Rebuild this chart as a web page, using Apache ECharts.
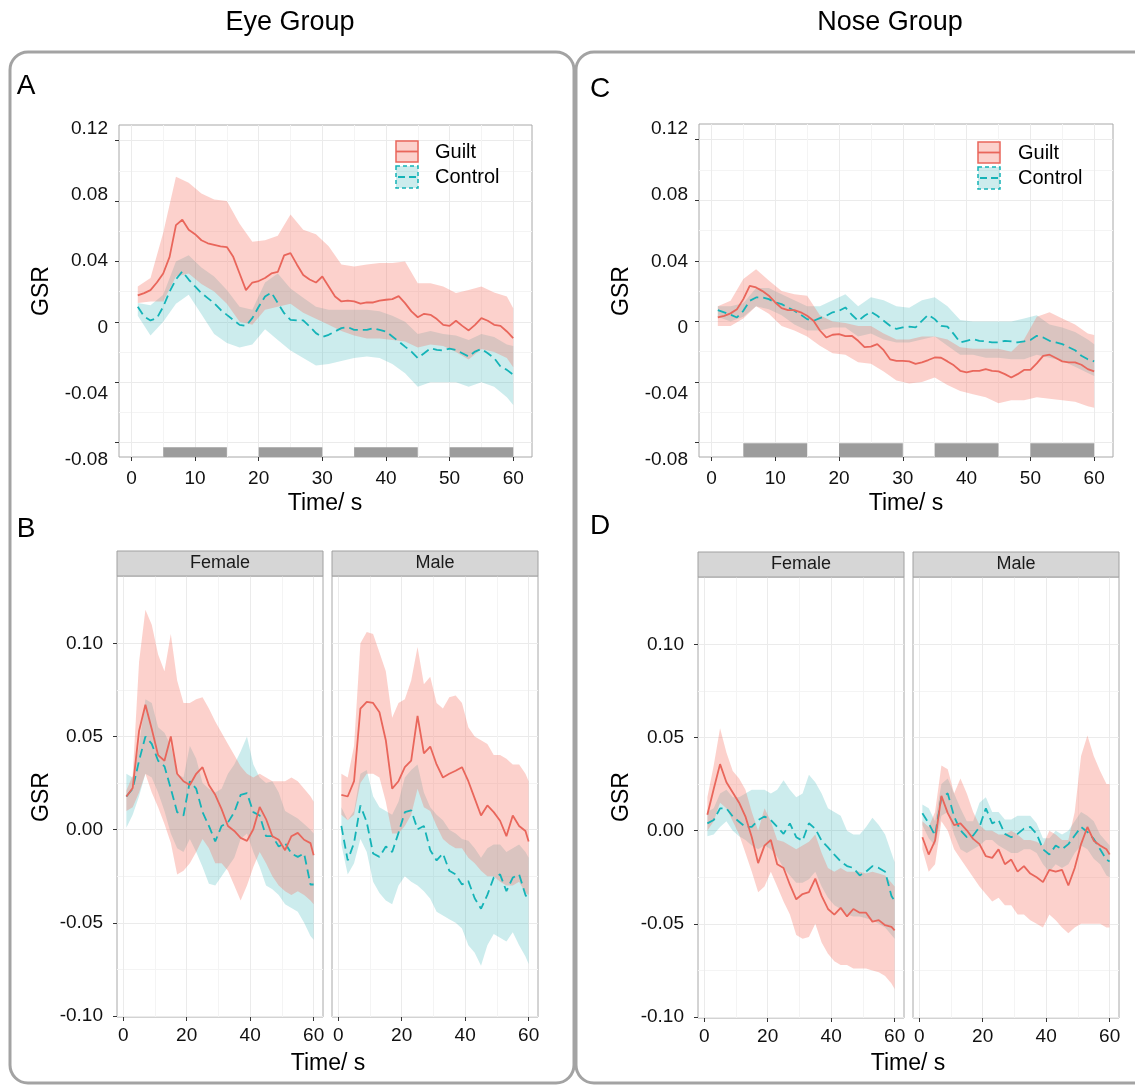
<!DOCTYPE html>
<html>
<head>
<meta charset="utf-8">
<script src="https://cdn.jsdelivr.net/npm/echarts@6/dist/echarts.min.js"></script>
<style>
  html, body { margin: 0; padding: 0; background: #fff; }
  #chart { width: 1135px; height: 1085px; }
</style>
</head>
<body>
<div id="chart"></div>
<script>
// ---- time points (s) ----
var timeFull = [1,2,3,4,5,6,7,8,9,10,11,12,13,14,15,16,17,18,19,20,21,22,23,24,25,26,27,28,29,30,
                31,32,33,34,35,36,37,38,39,40,41,42,43,44,45,46,47,48,49,50,51,52,53,54,55,56,57,58,59,60];
var timeHalf = [1,3,5,7,9,11,13,15,17,19,21,23,25,27,29,31,33,35,37,39,41,43,45,47,49,51,53,55,57,59,60];

// tick labels
var xLabelsAC = ['0','10','20','30','40','50','60'];
var xLabelsBD = ['0','20','40','60'];
var yLabelsAC = ['-0.08','-0.04','0','0.04','0.08','0.12'];
var yLabelsBD = ['-0.10','-0.05','0.00','0.05','0.10'];

// grey stimulus bars (s)
var shadeStart = [5,20,35,50];
var shadeEnd = [15,30,45,60];

// ---- A: Eye group, mean lines (timeFull) ----
var guiltA = [0.0175,0.019,0.021,0.026,0.032,0.043,0.064,0.0676,0.061,0.058,
              0.054,0.052,0.051,0.050,0.0495,0.043,0.032,0.021,0.026,0.027,
              0.029,0.032,0.033,0.044,0.0455,0.038,0.031,0.028,0.026,0.030,
              0.0234,0.0168,0.0135,0.014,0.0135,0.012,0.0128,0.0128,0.014,0.0146,
              0.015,0.017,0.0124,0.0069,0.003,0.0053,0.0046,0.0018,-0.002,-0.0027,
              0.0007,-0.0027,-0.0057,-0.002,0.0024,0.0007,-0.002,-0.0027,-0.0064,-0.0108];
var controlA = [0.010,0.0035,0.0009,0.0024,0.010,0.020,0.028,0.0334,0.028,0.0234,
                0.019,0.0157,0.0124,0.008,0.0046,0.0013,-0.002,-0.0027,0.0024,0.010,
                0.0168,0.0194,0.0124,0.0057,0.0013,0.0009,0.0009,-0.003,-0.0075,-0.010,
                -0.0086,-0.0064,-0.0042,-0.0035,-0.0053,-0.0053,-0.0053,-0.0042,-0.0053,-0.0064,
                -0.0097,-0.013,-0.0164,-0.0197,-0.024,-0.0208,-0.0175,-0.0186,-0.019,-0.0177,
                -0.0186,-0.0208,-0.023,-0.0197,-0.018,-0.0208,-0.024,-0.0296,-0.0318,-0.035];
// ribbons (timeHalf)
var guiltAHi = [0.0234,0.029,0.059,0.096,0.092, 0.085,0.081,0.080,0.065,0.053, 0.054,0.057,0.071,0.061,0.058,
                0.050,0.038,0.0367,0.038,0.039, 0.039,0.040,0.0256,0.0256,0.0234, 0.019,0.021,0.0234,0.0194,0.0168, 0.009];
var guiltALo = [0.0124,0.0135,0.0135,0.030,0.032, 0.025,0.020,0.012,0.000,-0.002, 0.008,0.010,0.012,0.006,0.002,
                -0.002,-0.006,-0.009,-0.011,-0.011, -0.012,-0.013,-0.017,-0.015,-0.016, -0.020,-0.025,-0.018,-0.020,-0.024, -0.030];
var controlAHi = [0.0124,0.011,0.018,0.040,0.044, 0.036,0.030,0.021,0.010,0.008, 0.026,0.032,0.022,0.016,0.010,
                  0.008,0.008,0.008,0.008,0.007, 0.004,0.000,-0.008,-0.006,-0.008, -0.009,-0.012,-0.008,-0.010,-0.015, -0.016];
var controlALo = [0.004,-0.009,0.000,0.012,0.018, 0.005,-0.008,-0.014,-0.017,-0.015, -0.005,-0.012,-0.019,-0.024,-0.029,
                  -0.028,-0.026,-0.024,-0.023,-0.024, -0.028,-0.034,-0.043,-0.040,-0.040, -0.040,-0.043,-0.040,-0.043,-0.050, -0.055];

// ---- C: Nose group ----
var guiltC = [0.0026,0.0037,0.0053,0.008,0.0147,0.0235,0.0224,0.020,0.017,0.0125,
              0.0088,0.0075,0.0075,0.006,0.0037,0.0004,-0.006,-0.0106,-0.0088,-0.0084,
              -0.0097,-0.0095,-0.0128,-0.017,-0.0167,-0.015,-0.019,-0.025,-0.026,-0.026,
              -0.0264,-0.028,-0.027,-0.0255,-0.0238,-0.024,-0.0264,-0.029,-0.0326,-0.0337,
              -0.0326,-0.0326,-0.0315,-0.0326,-0.033,-0.0348,-0.037,-0.0348,-0.032,-0.032,
              -0.0277,-0.0227,-0.022,-0.0242,-0.0264,-0.027,-0.027,-0.0286,-0.0315,-0.033];
var controlC = [0.0075,0.006,0.0044,0.0026,0.007,0.0136,0.0158,0.0158,0.0147,0.0125,
                0.0114,0.0092,0.007,0.0044,0.0015,0.0004,0.0022,0.0037,0.006,0.007,
                0.0092,0.0044,0.0004,0.0037,0.0064,0.0037,0.0004,-0.0029,-0.005,-0.004,
                -0.0035,-0.004,0.0004,0.0044,0.0015,-0.0029,-0.0035,-0.0084,-0.0139,-0.0128,
                -0.0117,-0.0128,-0.0132,-0.0139,-0.0139,-0.0128,-0.0132,-0.0139,-0.0132,-0.0123,
                -0.0095,-0.0106,-0.0128,-0.0139,-0.015,-0.017,-0.019,-0.0227,-0.025,-0.0264];
var guiltCHi = [0.010,0.0136,0.028,0.0345,0.027, 0.020,0.018,0.017,0.004,0.000, -0.001,-0.003,-0.003,-0.008,-0.012,
                -0.012,-0.010,-0.010,-0.012,-0.017, -0.018,-0.018,-0.018,-0.020,-0.012, 0.003,0.006,0.002,-0.002,-0.008, -0.009];
var guiltCLo = [-0.003,-0.003,0.002,0.010,0.005, -0.003,-0.006,-0.010,-0.016,-0.021, -0.022,-0.027,-0.028,-0.033,-0.039,
                -0.041,-0.040,-0.037,-0.042,-0.046, -0.048,-0.050,-0.054,-0.052,-0.052, -0.050,-0.051,-0.052,-0.053,-0.056, -0.057];
var controlCHi = [0.010,0.010,0.012,0.022,0.022, 0.018,0.014,0.010,0.010,0.014, 0.018,0.010,0.016,0.014,0.010,
                  0.009,0.014,0.016,0.010,0.001, 0.000,0.000,0.000,0.000,0.002, 0.004,-0.002,-0.004,-0.007,-0.012, -0.015];
var controlCLo = [0.003,0.000,0.003,0.010,0.008, 0.004,-0.002,-0.006,-0.006,-0.004, -0.004,-0.010,-0.008,-0.012,-0.014,
                  -0.014,-0.012,-0.010,-0.016,-0.022, -0.022,-0.024,-0.024,-0.025,-0.025, -0.022,-0.024,-0.026,-0.030,-0.034, -0.036];

// ---- B: Eye group by gender (timeHalf) ----
var guiltBF = [0.0178,0.0224,0.053,0.067,0.054, 0.040,0.037,0.050,0.030,0.026, 0.024,0.030,0.0335,0.024,0.0187,
               0.011,0.002,-0.0007,-0.0044,-0.006, 0.0002,0.0122,0.0057,-0.0035,-0.0054, -0.011,-0.0035,-0.0017,-0.0054,-0.0072, -0.0137];
var controlBF = [0.0178,0.022,0.037,0.050,0.046, 0.037,0.034,0.022,0.0094,0.0076, 0.026,0.022,0.0094,0.002,-0.0063,
                 0.002,0.0039,0.0094,0.0187,0.0196, 0.0094,0.0076,-0.0035,-0.0035,-0.009, -0.0072,-0.0128,-0.0146,-0.0128,-0.0294, -0.0294];
var guiltBFHi = [0.021,0.029,0.090,0.118,0.110, 0.094,0.085,0.105,0.080,0.068, 0.068,0.070,0.071,0.065,0.058,
                 0.052,0.046,0.040,0.034,0.030, 0.028,0.030,0.028,0.026,0.026, 0.026,0.028,0.026,0.022,0.018, 0.015];
var guiltBFLo = [0.010,0.012,0.020,0.030,0.020, 0.012,0.003,-0.007,-0.024,-0.022, -0.018,-0.012,-0.005,-0.010,-0.018,
                 -0.018,-0.022,-0.030,-0.038,-0.030, -0.020,-0.012,-0.018,-0.025,-0.030, -0.033,-0.035,-0.033,-0.035,-0.038, -0.040];
var controlBFHi = [0.030,0.028,0.045,0.070,0.068, 0.055,0.052,0.045,0.030,0.028, 0.045,0.038,0.025,0.022,0.020,
                   0.022,0.030,0.035,0.042,0.050, 0.035,0.028,0.025,0.026,0.020, 0.010,0.008,0.006,0.003,0.000, -0.002];
var controlBFLo = [0.001,0.008,0.018,0.030,0.028, 0.020,0.010,-0.002,-0.010,-0.012, -0.005,-0.012,-0.020,-0.029,-0.030,
                   -0.025,-0.020,-0.015,-0.005,-0.002, -0.012,-0.020,-0.030,-0.032,-0.035, -0.040,-0.042,-0.044,-0.050,-0.057, -0.059];

var guiltBM = [0.0187,0.0178,0.026,0.065,0.0686, 0.068,0.063,0.048,0.022,0.026, 0.0335,0.037,0.061,0.041,0.0446,
               0.035,0.028,0.030,0.0316,0.0335, 0.026,0.0168,0.0076,0.013,0.0094, 0.0048,-0.0035,0.0076,0.002,-0.0007, -0.0063];
var controlBM = [0.002,-0.0165,-0.007,0.013,0.004, -0.0128,-0.0146,-0.009,-0.012,-0.0017, 0.0094,0.0104,0.0002,0.002,-0.011,
                 -0.0165,-0.0128,-0.022,-0.024,-0.0294, -0.0276,-0.0368,-0.0424,-0.035,-0.0257, -0.024,-0.033,-0.0257,-0.024,-0.035, -0.0377];
var guiltBMHi = [0.030,0.028,0.045,0.100,0.106, 0.105,0.095,0.085,0.060,0.068, 0.070,0.080,0.098,0.078,0.082,
                 0.068,0.065,0.071,0.072,0.068, 0.055,0.050,0.048,0.046,0.040, 0.040,0.038,0.035,0.035,0.030, 0.026];
var guiltBMLo = [0.008,0.005,0.008,0.025,0.030, 0.030,0.028,0.015,-0.002,-0.002, 0.002,0.008,0.022,0.012,0.010,
                 0.002,-0.005,-0.008,-0.010,-0.010, -0.015,-0.018,-0.022,-0.025,-0.025, -0.028,-0.030,-0.030,-0.028,-0.034, -0.035];
var controlBMHi = [0.012,0.005,0.010,0.030,0.032, 0.018,0.012,0.010,0.008,0.015, 0.028,0.032,0.035,0.020,0.012,
                   0.008,0.005,0.000,-0.002,-0.005, -0.006,-0.010,-0.015,-0.010,-0.008, -0.008,-0.012,-0.010,-0.008,-0.012, -0.015];
var controlBMLo = [-0.008,-0.024,-0.018,-0.005,-0.012, -0.028,-0.034,-0.038,-0.040,-0.030, -0.025,-0.028,-0.030,-0.033,-0.037,
                   -0.044,-0.046,-0.048,-0.050,-0.053, -0.062,-0.066,-0.073,-0.062,-0.056, -0.058,-0.060,-0.055,-0.062,-0.068, -0.072];

// ---- D: Nose group by gender (timeHalf) ----
var guiltDF = [0.0085,0.0224,0.0357,0.026,0.0205, 0.015,0.0076,-0.0035,-0.0174,-0.008, -0.005,-0.018,-0.020,-0.029,-0.0368,
               -0.034,-0.033,-0.0257,-0.035,-0.042, -0.045,-0.0414,-0.046,-0.042,-0.044, -0.044,-0.0488,-0.048,-0.0507,-0.0516, -0.0535];
var controlDF = [0.0039,0.0057,0.012,0.012,0.0076, 0.0048,0.002,0.002,0.0057,0.0076, 0.0057,0.002,-0.0017,0.0039,-0.0035,
                 -0.0054,0.004,0.001,-0.0054,-0.009, -0.0128,-0.0165,-0.019,-0.020,-0.024, -0.022,-0.019,-0.020,-0.022,-0.035, -0.0377];
var guiltDFHi = [0.018,0.035,0.055,0.042,0.032, 0.028,0.022,0.010,0.000,0.012, 0.005,-0.005,-0.006,-0.008,-0.010,
                 -0.008,-0.006,-0.002,-0.012,-0.020, -0.022,-0.020,-0.022,-0.022,-0.022, -0.023,-0.022,-0.023,-0.024,-0.028, -0.030];
var guiltDFLo = [0.000,0.005,0.015,0.012,0.005, -0.002,-0.012,-0.022,-0.033,-0.030, -0.022,-0.030,-0.038,-0.045,-0.056,
                 -0.058,-0.057,-0.050,-0.060,-0.066, -0.070,-0.072,-0.072,-0.074,-0.074, -0.074,-0.075,-0.076,-0.078,-0.082, -0.085];
var controlDFHi = [0.010,0.012,0.020,0.022,0.018, 0.018,0.020,0.022,0.022,0.022, 0.020,0.022,0.027,0.022,0.018,
                   0.020,0.030,0.026,0.020,0.012, 0.010,0.008,0.000,-0.002,-0.002, 0.002,0.007,0.003,-0.002,-0.012, -0.017];
var controlDFLo = [-0.003,-0.002,0.002,0.005,0.000, -0.003,-0.005,-0.008,-0.010,-0.008, -0.010,-0.014,-0.020,-0.024,-0.028,
                   -0.028,-0.026,-0.022,-0.030,-0.036, -0.040,-0.042,-0.045,-0.046,-0.046, -0.047,-0.048,-0.050,-0.052,-0.056, -0.058];

var guiltDM = [-0.0035,-0.0128,-0.0054,0.0187,0.0094, 0.003,0.0039,0.0002,-0.0044,-0.0072, -0.0137,-0.0146,-0.010,-0.018,-0.0155,
               -0.022,-0.019,-0.023,-0.025,-0.0276, -0.021,-0.022,-0.021,-0.0294,-0.020, -0.0072,0.002,-0.0054,-0.008,-0.010, -0.0128];
var controlDM = [0.0094,0.0039,-0.0026,0.018,0.020, 0.0076,0.0002,-0.0035,-0.0026,0.002, 0.012,0.0039,0.0057,-0.0017,-0.0035,
                 -0.0017,0.0011,0.002,-0.0017,-0.010, -0.0128,-0.008,-0.010,-0.0072,-0.0026, 0.002,-0.0007,-0.0044,-0.010,-0.0155, -0.0165];
var guiltDMHi = [0.005,0.002,0.010,0.035,0.033, 0.020,0.028,0.020,0.010,0.003, 0.000,0.000,-0.002,-0.002,0.000,
                 -0.002,-0.005,-0.005,-0.006,-0.008, 0.000,-0.002,-0.005,-0.005,0.010, 0.040,0.051,0.040,0.032,0.025, 0.025];
var guiltDMLo = [-0.010,-0.022,-0.018,0.005,0.000, -0.010,-0.015,-0.020,-0.025,-0.030, -0.034,-0.038,-0.036,-0.040,-0.040,
                 -0.045,-0.045,-0.048,-0.050,-0.052, -0.045,-0.048,-0.052,-0.055,-0.052, -0.050,-0.050,-0.050,-0.050,-0.052, -0.052];
var controlDMHi = [0.014,0.012,0.005,0.025,0.028, 0.020,0.012,0.005,0.005,0.015, 0.018,0.010,0.010,0.006,0.006,
                   0.008,0.008,0.008,0.004,-0.004, -0.004,0.000,-0.002,0.000,0.005, 0.010,0.008,0.005,-0.002,-0.006, -0.008];
var controlDMLo = [0.003,-0.004,-0.008,0.008,0.010, -0.002,-0.010,-0.012,-0.010,-0.008, -0.005,-0.005,-0.008,-0.010,-0.012,
                   -0.012,-0.010,-0.010,-0.012,-0.018, -0.022,-0.018,-0.020,-0.018,-0.012, -0.008,-0.010,-0.015,-0.018,-0.024, -0.025];

// ---- styles ----
var FONT = '"Liberation Sans", Arial, Helvetica, sans-serif';
var guiltColor = '#E9665B';
var controlColor = '#14B3B7';
var guiltFill = 'rgba(245,115,100,0.33)';
var controlFill = 'rgba(0,160,165,0.2)';
var majorGrid = '#EBEBEB';
var minorGrid = '#F4F4F4';
var textColor = '#111';

var grids = [], xAxes = [], yAxes = [], series = [], graphics = [];

function addGrid(box) {
  grids.push(Object.assign({ containLabel: false, outerBoundsMode: 'none' }, box));
  return grids.length - 1;
}

function ribbon(xi, yi, xs, lo, hi, fill) {
  return {
    type: 'custom', xAxisIndex: xi, yAxisIndex: yi, silent: true, animation: false,
    data: xs.map(function (x, i) { return [x, lo[i], hi[i]]; }),
    encode: { x: 0, y: [1, 2] },
    renderItem: function (params, api) {
      if (params.dataIndex !== 0) return null;
      var pts = [];
      for (var i = 0; i < xs.length; i++) pts.push(api.coord([xs[i], hi[i]]));
      for (var j = xs.length - 1; j >= 0; j--) pts.push(api.coord([xs[j], lo[j]]));
      return { type: 'polygon', shape: { points: pts }, style: { fill: fill } };
    }
  };
}

function meanLine(xi, yi, xs, ys, color, dashed) {
  return {
    type: 'line', xAxisIndex: xi, yAxisIndex: yi, silent: true, animation: false,
    showSymbol: false, symbol: 'none',
    data: xs.map(function (x, i) { return [x, ys[i]]; }),
    lineStyle: { color: color, width: 1.8, type: dashed ? [9, 5] : 'solid' }
  };
}

function shadeBars(xi, yi, bottom, top) {
  return {
    type: 'custom', xAxisIndex: xi, yAxisIndex: yi, silent: true, animation: false,
    data: shadeStart.map(function (s, i) { return [s, shadeEnd[i]]; }),
    renderItem: function (params, api) {
      var a = api.coord([api.value(0), top]);
      var b = api.coord([api.value(1), bottom]);
      return { type: 'rect', shape: { x: a[0], y: a[1], width: b[0] - a[0], height: b[1] - a[1] },
               style: { fill: '#9C9C9C' } };
    }
  };
}

function addPanel(p) {
  // main plotting grid
  var g = addGrid({ left: p.left, top: p.top, width: p.width, height: p.height,
                    show: true, borderColor: '#A8A8A8', borderWidth: 1, backgroundColor: 'transparent' });
  xAxes.push({ gridIndex: g, type: 'value', min: p.xMin, max: p.xMax, show: false });
  yAxes.push({ gridIndex: g, type: 'value', min: p.yMin, max: p.yMax, show: false });
  var xi = xAxes.length - 1, yi = yAxes.length - 1;

  // x axis ticks / grid lines
  var x0 = p.left + (0 - p.xMin) / (p.xMax - p.xMin) * p.width;
  var x60 = p.left + (60 - p.xMin) / (p.xMax - p.xMin) * p.width;
  var gx = addGrid({ left: x0, top: p.top, width: x60 - x0, height: p.height });
  xAxes.push({
    gridIndex: gx, type: 'value', min: 0, max: 60, interval: p.xInterval, position: 'bottom',
    axisLine: { show: false },
    axisTick: { show: true, length: 4, lineStyle: { color: '#333', width: 1 } },
    axisLabel: { show: true, margin: p.xLabelMargin, fontSize: 19, color: textColor, fontFamily: FONT,
                 formatter: function (v) { return p.xLabels[Math.round(v / p.xInterval)]; } },
    splitLine: { show: true, lineStyle: { color: majorGrid, width: 1 } },
    minorTick: { show: false, splitNumber: 2 },
    minorSplitLine: { show: true, lineStyle: { color: minorGrid, width: 1 } }
  });
  yAxes.push({ gridIndex: gx, type: 'value', min: 0, max: 1, show: false });

  // y axis ticks / grid lines
  var yTop = p.top + (p.yMax - p.yTickMax) / (p.yMax - p.yMin) * p.height;
  var yBot = p.top + (p.yMax - p.yTickMin) / (p.yMax - p.yMin) * p.height;
  var gy = addGrid({ left: p.left, top: yTop, width: p.width, height: yBot - yTop });
  xAxes.push({ gridIndex: gy, type: 'value', min: 0, max: 1, show: false });
  yAxes.push({
    gridIndex: gy, type: 'value', min: p.yTickMin, max: p.yTickMax, interval: p.yInterval,
    axisLine: { show: false },
    axisTick: { show: p.showYTicks, length: 4, lineStyle: { color: '#333', width: 1 } },
    axisLabel: { show: p.showYTicks && !p.labelTop, margin: p.yLabelMargin, fontSize: 19, color: textColor, fontFamily: FONT,
                 formatter: function (v) { return p.yLabels[Math.round((v - p.yTickMin) / p.yInterval)]; } },
    splitLine: { show: true, lineStyle: { color: majorGrid, width: 1 } },
    minorTick: { show: false, splitNumber: 2 },
    minorSplitLine: { show: true, lineStyle: { color: minorGrid, width: 1 } }
  });

  // separately placed y labels (A and C)
  if (p.labelTop) {
    var gl = addGrid({ left: p.left, top: p.labelTop, width: p.width, height: p.labelBottom - p.labelTop });
    xAxes.push({ gridIndex: gl, type: 'value', min: 0, max: 1, show: false });
    yAxes.push({
      gridIndex: gl, type: 'value', min: p.yTickMin, max: p.yTickMax, interval: p.yInterval,
      axisLine: { show: false }, axisTick: { show: false }, splitLine: { show: false },
      axisLabel: { show: true, margin: p.yLabelMargin, fontSize: 19, color: textColor, fontFamily: FONT,
                   formatter: function (v) { return p.yLabels[Math.round((v - p.yTickMin) / p.yInterval)]; } }
    });
  }

  if (p.barTop !== undefined) series.push(shadeBars(xi, yi, p.yMin, p.barTop));
  series.push(ribbon(xi, yi, timeHalf, p.controlLo, p.controlHi, controlFill));
  series.push(meanLine(xi, yi, p.lineTime, p.control, controlColor, true));
  series.push(ribbon(xi, yi, timeHalf, p.guiltLo, p.guiltHi, guiltFill));
  series.push(meanLine(xi, yi, p.lineTime, p.guilt, guiltColor, false));

  if (p.strip) {
    graphics.push({ type: 'rect', z: 5, shape: { x: p.left, y: p.top - 25, width: p.width, height: 25 },
                    style: { fill: '#D6D6D6', stroke: '#A0A0A0', lineWidth: 1 } });
    graphics.push({ type: 'text', z: 6, x: p.left + p.width / 2, y: p.top - 12.5,
                    style: { text: p.strip, fontSize: 18, fontFamily: FONT, fill: '#1a1a1a',
                             align: 'center', verticalAlign: 'middle' } });
  }
}

var acBase = { xMin: -1.95, xMax: 62.95, yMin: -0.0895, yMax: 0.1303, xInterval: 10, xLabels: xLabelsAC,
               yTickMin: -0.08, yTickMax: 0.12, yInterval: 0.04, yLabels: yLabelsAC,
               xLabelMargin: 12, yLabelMargin: 11, showYTicks: true, lineTime: timeFull };
var bdBase = { xMin: -1.95, xMax: 62.95, yMin: -0.1005, yMax: 0.1361, xInterval: 20, xLabels: xLabelsBD,
               yTickMin: -0.1, yTickMax: 0.1, yInterval: 0.05, yLabels: yLabelsBD,
               xLabelMargin: 9, yLabelMargin: 14, lineTime: timeHalf };

addPanel(Object.assign({}, acBase, { left: 119, top: 125, width: 413, height: 332, labelTop: 128.5, labelBottom: 460,
  barTop: -0.083, guilt: guiltA, control: controlA, guiltHi: guiltAHi, guiltLo: guiltALo, controlHi: controlAHi, controlLo: controlALo }));
addPanel(Object.assign({}, acBase, { left: 699, top: 124, width: 414, height: 333, labelTop: 129, labelBottom: 460,
  barTop: -0.0805, guilt: guiltC, control: controlC, guiltHi: guiltCHi, guiltLo: guiltCLo, controlHi: controlCHi, controlLo: controlCLo }));
addPanel(Object.assign({}, bdBase, { left: 117, top: 576, width: 206, height: 441, showYTicks: true, strip: 'Female',
  guilt: guiltBF, control: controlBF, guiltHi: guiltBFHi, guiltLo: guiltBFLo, controlHi: controlBFHi, controlLo: controlBFLo }));
addPanel(Object.assign({}, bdBase, { left: 332, top: 576, width: 206, height: 441, showYTicks: false, strip: 'Male',
  guilt: guiltBM, control: controlBM, guiltHi: guiltBMHi, guiltLo: guiltBMLo, controlHi: controlBMHi, controlLo: controlBMLo }));
addPanel(Object.assign({}, bdBase, { left: 698, top: 577, width: 206, height: 441, showYTicks: true, strip: 'Female',
  guilt: guiltDF, control: controlDF, guiltHi: guiltDFHi, guiltLo: guiltDFLo, controlHi: controlDFHi, controlLo: controlDFLo }));
addPanel(Object.assign({}, bdBase, { left: 913, top: 577, width: 206, height: 441, showYTicks: false, strip: 'Male',
  guilt: guiltDM, control: controlDM, guiltHi: guiltDMHi, guiltLo: guiltDMLo, controlHi: controlDMHi, controlLo: controlDMLo }));

// ---- decorations ----
function txt(x, y, s, size, opts) {
  return Object.assign({ type: 'text', z: 6, x: x, y: y,
    style: { text: s, fontSize: size, fontFamily: FONT, fill: '#000', align: 'center', verticalAlign: 'middle' } }, opts || {});
}
function legendText(x, y, s) {
  return { type: 'text', z: 6, x: x, y: y,
           style: { text: s, fontSize: 20, fontFamily: FONT, fill: '#000', align: 'left', verticalAlign: 'middle' } };
}
function legend(x, y, tx) {
  graphics.push({ type: 'rect', z: 6, shape: { x: x, y: y, width: 22, height: 21 },
                  style: { fill: guiltFill, stroke: guiltColor, lineWidth: 1.5 } });
  graphics.push({ type: 'line', z: 7, shape: { x1: x, y1: y + 10.5, x2: x + 22, y2: y + 10.5 },
                  style: { stroke: guiltColor, lineWidth: 1.8 } });
  graphics.push({ type: 'rect', z: 6, shape: { x: x, y: y + 25, width: 22, height: 22 },
                  style: { fill: controlFill, stroke: controlColor, lineWidth: 1.5, lineDash: [4, 3] } });
  graphics.push({ type: 'line', z: 7, shape: { x1: x + 2, y1: y + 36, x2: x + 20, y2: y + 36 },
                  style: { stroke: controlColor, lineWidth: 1.8, lineDash: [7, 4] } });
  graphics.push(legendText(tx, y + 11, 'Guilt'));
  graphics.push(legendText(tx, y + 36, 'Control'));
}

graphics.push({ type: 'rect', z: 1, shape: { x: 10, y: 52, width: 564, height: 1031, r: 18 },
                style: { fill: 'none', stroke: '#A3A3A3', lineWidth: 3 } });
graphics.push({ type: 'rect', z: 1, shape: { x: 576, y: 52, width: 590, height: 1031, r: 18 },
                style: { fill: 'none', stroke: '#A3A3A3', lineWidth: 3 } });
graphics.push(txt(290, 23, 'Eye Group', 27));
graphics.push(txt(890, 23, 'Nose Group', 27));
graphics.push(txt(26, 86, 'A', 28));
graphics.push(txt(26, 529, 'B', 28));
graphics.push(txt(600, 89, 'C', 28));
graphics.push(txt(600, 526, 'D', 28));
graphics.push(txt(42, 291, 'GSR', 23, { rotation: Math.PI / 2 }));
graphics.push(txt(622, 291, 'GSR', 23, { rotation: Math.PI / 2 }));
graphics.push(txt(42, 797, 'GSR', 23, { rotation: Math.PI / 2 }));
graphics.push(txt(622, 797, 'GSR', 23, { rotation: Math.PI / 2 }));
graphics.push(txt(325, 504, 'Time/ s', 23));
graphics.push(txt(906, 504, 'Time/ s', 23));
graphics.push(txt(328, 1064, 'Time/ s', 23));
graphics.push(txt(908, 1064, 'Time/ s', 23));
legend(396, 141, 435);
legend(978, 142, 1018);

var chart = echarts.init(document.getElementById('chart'), null, { renderer: 'canvas' });
chart.setOption({
  backgroundColor: '#fff',
  animation: false,
  grid: grids,
  xAxis: xAxes,
  yAxis: yAxes,
  series: series,
  graphic: { elements: graphics }
});
</script>
</body>
</html>
